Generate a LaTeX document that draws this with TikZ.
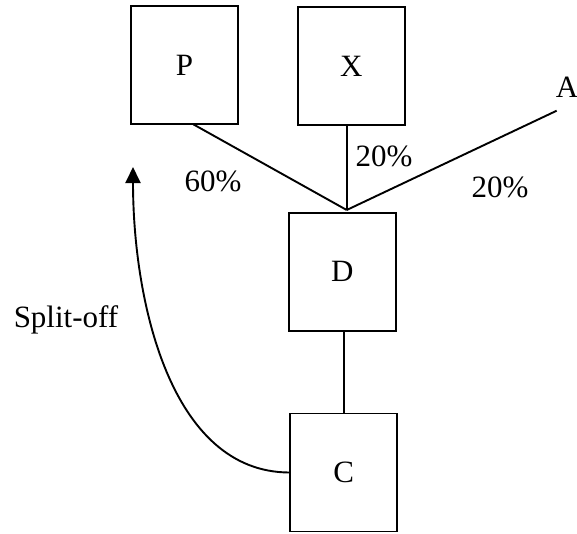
\documentclass[tikz,border=0pt]{standalone}
\usepackage{fontspec}
\setmainfont{Liberation Serif}
\usetikzlibrary{arrows.meta,calc}
\begin{document}
\begin{tikzpicture}[x=1pt,y=-1pt,
  box/.style={draw,line width=1.9pt,minimum width=107pt,minimum height=118pt,inner sep=0pt,font=\fontsize{31}{37}\selectfont},
  lbl/.style={inner sep=0pt,font=\fontsize{31}{37}\selectfont},
  conn/.style={line width=1.9pt}]
\useasboundingbox (0,0) rectangle (577,533);
\node[box] (P) at (184.5,65) {P};
\node[box] (X) at (351.3,66) {X};
\node[box] (D) at (342.2,271.7) {D};
\node[box] (C) at (343.7,472.5) {C};
\coordinate (J) at (346.7,210);
\coordinate (Pb) at (193.3,124.3);
\coordinate (Aend) at (556.7,110.7);
\coordinate (Top) at (133,167);
\node[lbl] (A) at (567,87) {A};
\node[lbl] (l60) at (213,181) {60\%};
\node[lbl] (l20x) at (384,156) {20\%};
\node[lbl] (l20a) at (500,187) {20\%};
\node[lbl] (split) at (66,320) {Split-off};
\draw[conn] (Pb) -- (J);
\draw[conn] (J |- X.south) -- (J);
\draw[conn] (J) -- (Aend);
\draw[conn] (D.south -| 344,0) -- (C.north -| 344,0);
\draw[conn,-{Triangle[length=16pt,width=15pt]}] (C.west) .. controls (170,472) and (133,300) .. (Top);
\end{tikzpicture}
\end{document}
